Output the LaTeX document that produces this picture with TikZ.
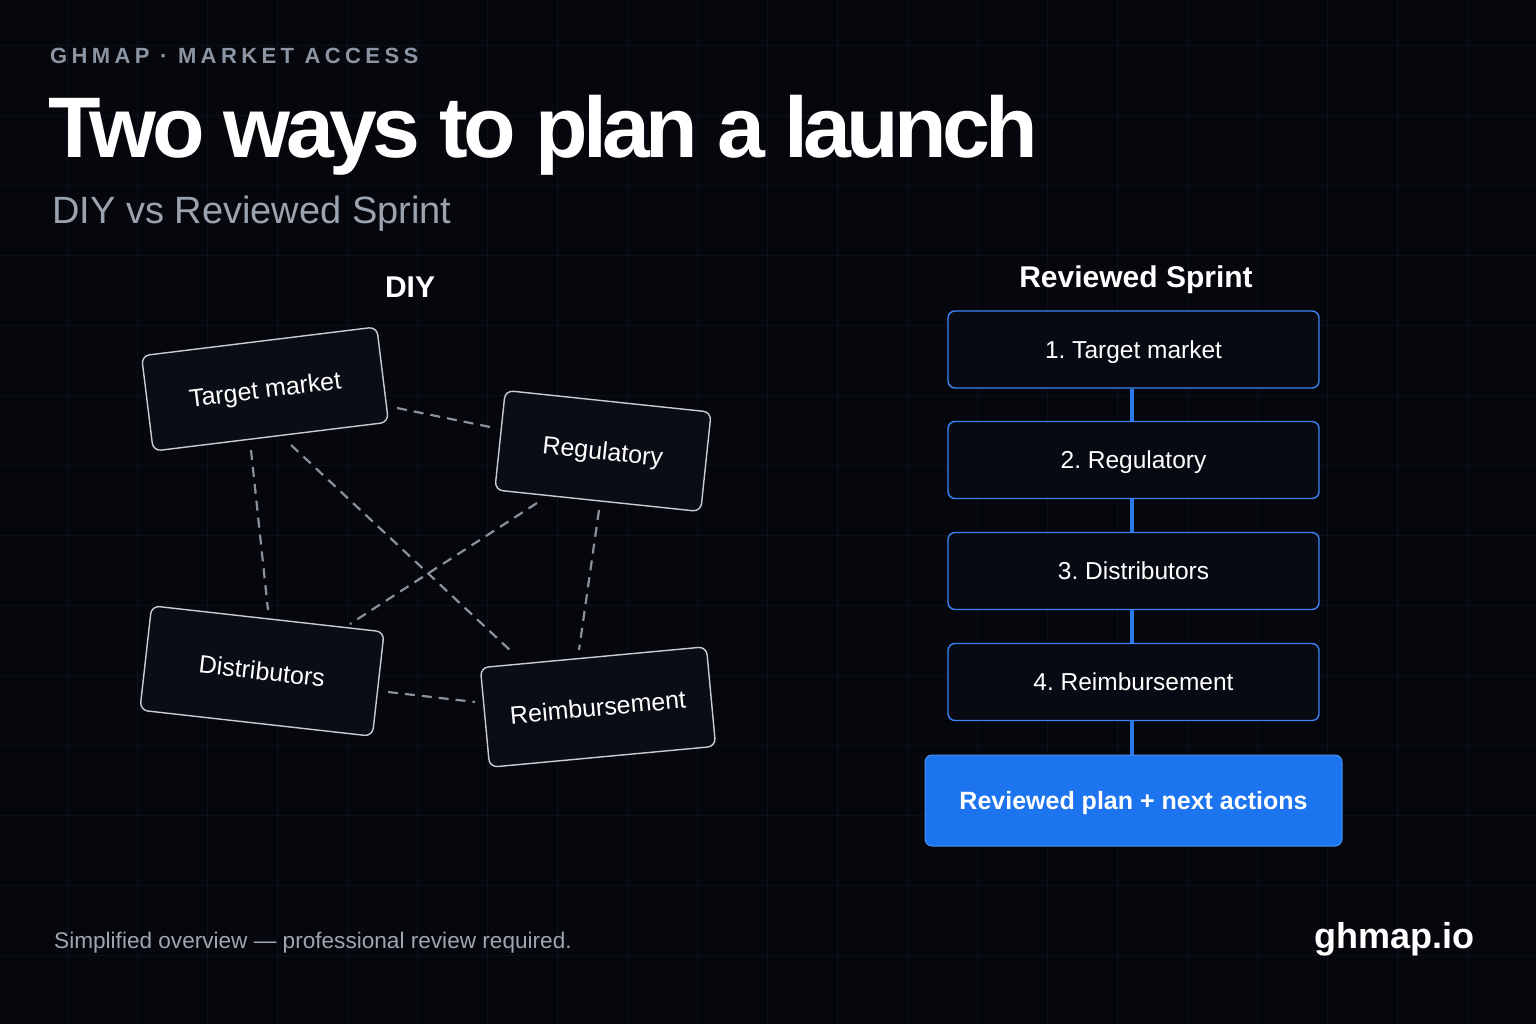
\documentclass[tikz,border=0pt]{standalone}
\usepackage{fontspec}
\setmainfont{Liberation Sans}
\usetikzlibrary{calc}
\definecolor{bg}{HTML}{05070D}
\definecolor{gridc}{HTML}{0C111D}
\definecolor{hdr}{HTML}{8B95A3}
\definecolor{sub}{HTML}{9BA3AF}
\definecolor{foot}{HTML}{A0A6B0}
\definecolor{diyfill}{HTML}{0A0D15}
\definecolor{diyline}{HTML}{C9CDD3}
\definecolor{dash}{HTML}{8B919B}
\definecolor{stepfill}{HTML}{070A12}
\definecolor{stepline}{HTML}{3B82F6}
\definecolor{conn}{HTML}{2B78E8}
\definecolor{finalblue}{HTML}{1C74EF}
\tikzset{
  diybox/.style={draw=diyline, fill=diyfill, line width=1.4pt, rounded corners=8pt,
    text=white, font=\fontsize{25}{30}\selectfont, inner sep=0pt, text height=18pt, text depth=0pt},
  dashline/.style={draw=dash, line width=2.2pt, dash pattern=on 10pt off 7pt},
  stepbox/.style={draw=stepline, fill=stepfill, line width=1.4pt, rounded corners=7pt,
    minimum width=371pt, minimum height=77pt, text=white, font=\fontsize{24.5}{29}\selectfont,
    text height=17pt, text depth=0pt},
  finalbox/.style={draw=finalblue!80!white, fill=finalblue, line width=1pt, rounded corners=7pt,
    minimum width=417pt, minimum height=91pt, text=white, font=\bfseries\fontsize{25}{30}\selectfont,
    text height=17pt, text depth=0pt},
  connline/.style={draw=conn, line width=4pt},
}
\begin{document}
\frenchspacing
\begin{tikzpicture}[x=1pt,y=-1pt]
\fill[bg] (0,0) rectangle (1536,1024);
\useasboundingbox (0,0) rectangle (1536,1024);
% faint grid
\foreach \gx in {67,137,...,1536} { \draw[gridc, line width=0.8pt] (\gx,0) -- (\gx,1024); }
\foreach \gy in {45,115,...,1024} { \draw[gridc, line width=0.8pt] (0,\gy) -- (1536,\gy); }

% header texts
\node[anchor=base west, inner sep=0pt, text=hdr, font=\bfseries\fontsize{22}{26}\selectfont\addfontfeatures{LetterSpace=20}] (kicker) at (50,64) {GHMAP · MARKET ACCESS};
\node[anchor=base west, inner sep=0pt, text=white, font=\bfseries\fontsize{86}{100}\selectfont\addfontfeatures{LetterSpace=-5.4}] (title) at (48,158) {Two ways to plan a launch};
\node[anchor=base west, inner sep=0pt, text=sub, font=\fontsize{38}{44}\selectfont] (subtitle) at (52,224) {DIY vs Reviewed Sprint};

% section headings
\node[text=white, font=\bfseries\fontsize{30}{36}\selectfont] (diyh) at (410,287) {DIY};
\node[text=white, font=\bfseries\fontsize{30}{36}\selectfont] (rsh) at (1136,280) {Reviewed Sprint};

% DIY boxes
\node[diybox, minimum width=237pt, minimum height=96pt, rotate=7] (tm) at (265,389) {Target market};
\node[diybox, minimum width=207pt, minimum height=100pt, rotate=-6] (reg) at (603,451) {Regulatory};
\node[diybox, minimum width=234pt, minimum height=105pt, rotate=-6.4] (dist) at (262,671) {Distributors};
\node[diybox, minimum width=227pt, minimum height=100pt, rotate=5.3] (reim) at (598,707) {Reimbursement};

% dashed connector end points
\coordinate (tmR) at (397,408);  \coordinate (regL) at (490,427);
\coordinate (tmB1) at (251,450); \coordinate (distT1) at (268,610);
\coordinate (tmB2) at (291,445); \coordinate (reimT1) at (512,652);
\coordinate (regB1) at (537,503); \coordinate (distT2) at (350,624);
\coordinate (regB2) at (599,510); \coordinate (reimT2) at (579,650);
\coordinate (distR) at (388,692); \coordinate (reimL) at (475,702);
\draw[dashline] (tmR) -- (regL);
\draw[dashline] (tmB1) -- (distT1);
\draw[dashline] (tmB2) -- (reimT1);
\draw[dashline] (regB1) -- (distT2);
\draw[dashline] (regB2) -- (reimT2);
\draw[dashline] (distR) -- (reimL);

% Reviewed sprint steps
\node[stepbox] (s1) at (1133.5,349.5) {1. Target market};
\node[stepbox] (s2) at (1133.5,460) {2. Regulatory};
\node[stepbox] (s3) at (1133.5,571) {3. Distributors};
\node[stepbox] (s4) at (1133.5,682) {4. Reimbursement};
\node[finalbox] (fin) at (1133.5,800.5) {Reviewed plan + next actions};
\draw[connline] ([xshift=-2pt]s1.south) -- ([xshift=-2pt]s2.north);
\draw[connline] ([xshift=-2pt]s2.south) -- ([xshift=-2pt]s3.north);
\draw[connline] ([xshift=-2pt]s3.south) -- ([xshift=-2pt]s4.north);
\draw[connline] ([xshift=-2pt]s4.south) -- ([xshift=-2pt]fin.north);

% footer
\node[anchor=base west, inner sep=0pt, text=foot, font=\fontsize{22.6}{26}\selectfont] (footer) at (54,948) {Simplified overview — professional review required.};
\node[anchor=base east, inner sep=0pt, text=white, font=\bfseries\fontsize{36}{42}\selectfont] (brand) at (1475,948) {ghmap.io};
\end{tikzpicture}
\end{document}
